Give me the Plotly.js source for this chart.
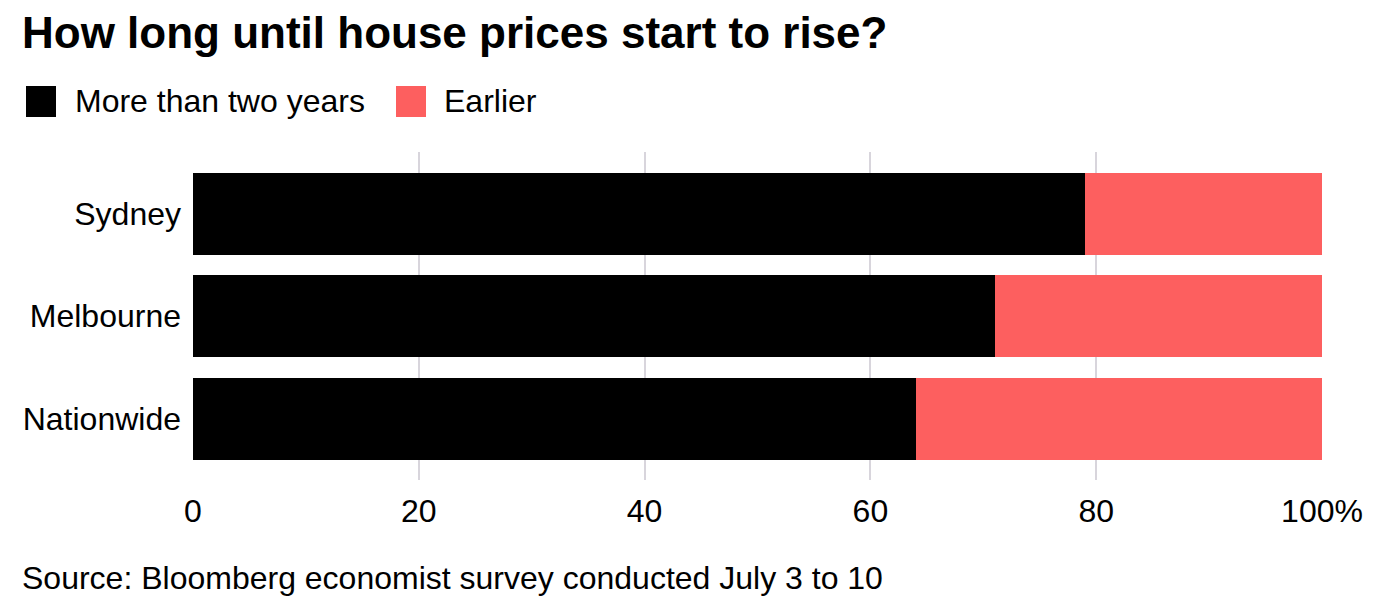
<!DOCTYPE html>
<html>
<head>
<meta charset="utf-8">
<script src="https://cdn.plot.ly/plotly-3.0.1.min.js"></script>
<style>html,body{margin:0;padding:0;background:#fff;}#chart{width:1388px;height:607px;}</style>
</head>
<body>
<div id="chart"></div>
<script>
const categories = ["Sydney", "Melbourne", "Nationwide"];
const moreThanTwoYears = [79, 71, 64];
const earlier = [21, 29, 36];
const tickVals = [0, 20, 40, 60, 80, 100];
const tickLabels = ["0", "20", "40", "60", "80", "100%"];
const seriesNames = ["More than two years", "Earlier"];
const seriesColors = ["#000000", "#fd5f5f"];

const FONT = "Liberation Sans, Arial, Helvetica, sans-serif";
const W = 1388, H = 607;
const L = 193, R = 66, T = 152, B = 127;
const pw = W - L - R, ph = H - T - B;
const px = x => (x - L) / pw;
const py = y => (H - B - y) / ph;
const FS = 32;

const traces = [
  {type: "bar", orientation: "h", name: seriesNames[0], y: categories, x: moreThanTwoYears,
   marker: {color: seriesColors[0]}, hoverinfo: "x+y"},
  {type: "bar", orientation: "h", name: seriesNames[1], y: categories, x: earlier,
   marker: {color: seriesColors[1]}, hoverinfo: "x+y"}
];

const layout = {
  width: W, height: H,
  margin: {l: L, r: R, t: T, b: B, pad: 0},
  paper_bgcolor: "#fff", plot_bgcolor: "#fff",
  barmode: "stack", bargap: 0.2,
  showlegend: false,
  font: {family: FONT, color: "#000", size: FS},
  title: {text: "<b>How long until house prices start to rise?</b>", x: 22 / W, xanchor: "left",
          y: 1 - 33 / H, yanchor: "middle", font: {family: FONT, size: 44, color: "#000"}},
  xaxis: {range: [0, 100], tickvals: tickVals, ticktext: tickLabels, showgrid: true,
          gridcolor: "#d8d5dc", gridwidth: 2, zeroline: true, zerolinecolor: "rgba(0,0,0,0)",
          showline: false, ticks: "", ticklen: 0, ticklabelstandoff: 9,
          tickfont: {size: FS, family: FONT, color: "#000"}, fixedrange: true},
  yaxis: {autorange: false, range: [2.6, -0.6], showgrid: false, zeroline: false, showline: false,
          ticks: "", ticklabelstandoff: 11, tickfont: {size: FS, family: FONT, color: "#000"},
          fixedrange: true},
  shapes: [
    {type: "rect", xref: "paper", yref: "paper", x0: px(26), x1: px(56), y0: py(117), y1: py(86),
     fillcolor: seriesColors[0], line: {width: 0}},
    {type: "rect", xref: "paper", yref: "paper", x0: px(396), x1: px(426), y0: py(117), y1: py(86),
     fillcolor: seriesColors[1], line: {width: 0}}
  ],
  annotations: [
    {text: seriesNames[0], xref: "paper", yref: "paper", x: px(73), y: py(101), xanchor: "left", yanchor: "middle",
     showarrow: false, font: {size: FS, family: FONT, color: "#000"}},
    {text: seriesNames[1], xref: "paper", yref: "paper", x: px(442), y: py(101), xanchor: "left", yanchor: "middle",
     showarrow: false, font: {size: FS, family: FONT, color: "#000"}},
    {text: "Source: Bloomberg economist survey conducted July 3 to 10", xref: "paper", yref: "paper",
     x: px(20), y: py(578), xanchor: "left", yanchor: "middle", showarrow: false,
     font: {size: FS, family: FONT, color: "#000"}}
  ]
};

Plotly.newPlot("chart", traces, layout, {displayModeBar: false, staticPlot: true});
</script>
</body>
</html>
